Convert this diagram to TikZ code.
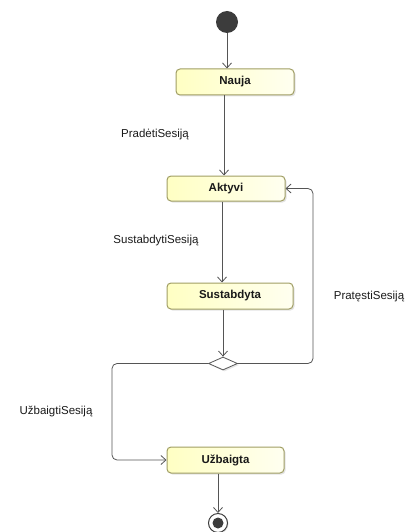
\documentclass[tikz,border=0pt]{standalone}
\usepackage{fontspec}
\setmainfont{Liberation Sans}
\usetikzlibrary{arrows.meta,shapes.geometric,shadows}
\definecolor{edgegray}{RGB}{85,85,85}
\definecolor{stateborder}{RGB}{160,158,100}
\definecolor{statefill}{RGB}{255,255,195}
\definecolor{statefillright}{RGB}{255,255,240}
\definecolor{pseudo}{RGB}{60,60,60}
\begin{document}
\begin{tikzpicture}[x=1pt,y=-1pt,
  every node/.style={font=\fontsize{11.5}{13}\selectfont, text=black!90},
  statebox/.style={draw=stateborder, line width=1pt, rounded corners=4pt,
    left color=statefill, right color=statefillright, minimum height=26pt,
    font=\fontsize{11.5}{13}\selectfont\bfseries, inner sep=0pt,
    drop shadow={shadow xshift=1.5pt, shadow yshift=-1.5pt, fill=black!22}},
  flow/.style={draw=edgegray, line width=0.8pt, -{Straight Barb[length=5pt,width=9pt]}},
  loop/.style={flow, rounded corners=5pt},
  trlabel/.style={inner sep=0pt}
]
\useasboundingbox (0,0) rectangle (407,532);

% states
\node[circle, fill=pseudo, minimum size=22pt, inner sep=0pt] (init) at (227,22) {};
\node[statebox, minimum width=118pt] (nauja) at (235,82) {Nauja};
\node[statebox, minimum width=118pt, minimum height=25pt] (aktyvi) at (226,188.5) {Aktyvi};
\node[statebox, minimum width=126pt] (sustabdyta) at (230,296) {Sustabdyta};
\node[diamond, draw=edgegray, fill=white, line width=0.8pt, minimum width=29pt, minimum height=13pt,
      inner sep=0pt, aspect=2.2,
      drop shadow={shadow xshift=1.5pt, shadow yshift=-1.5pt, fill=black!20}] (choice) at (223,363.5) {};
\node[statebox, minimum width=117pt] (uzbaigta) at (225.5,460) {Užbaigta};
\node[circle, draw=pseudo, fill=white, line width=1pt, minimum size=19pt, inner sep=0pt,
      drop shadow={shadow xshift=1pt, shadow yshift=-1pt, fill=black!20}] (final) at (218,523) {};
\node[circle, fill=pseudo, minimum size=11pt, inner sep=0pt] at (final) {};

% transitions
\draw[flow] (init) -- (init |- nauja.north);
\draw[flow] ([xshift=-11pt]nauja.south) -- ([xshift=-11pt]nauja.south |- aktyvi.north);
\draw[flow] ([xshift=-4pt]aktyvi.south) -- ([xshift=-4pt]aktyvi.south |- sustabdyta.north);
\draw[flow] ([xshift=-7pt]sustabdyta.south) -- (choice.north);
\coordinate (rturn) at (313,363.5);
\coordinate (lturn) at (112,363.5);
\draw[loop] (choice.east) -- (rturn) |- (aktyvi.east);
\draw[loop] (choice.west) -- (lturn) |- (uzbaigta.west);
\draw[flow] ([xshift=-7.5pt]uzbaigta.south) -- ([xshift=-7.5pt]uzbaigta.south |- final.north);

% transition labels
\node[trlabel] (lblstart) at (155,135) {PradėtiSesiją};
\node[trlabel] (lblpause) at (156,241) {SustabdytiSesiją};
\node[trlabel] (lblresume) at (369,297) {PratęstiSesiją};
\node[trlabel] (lblfinish) at (56,412) {UžbaigtiSesiją};
\end{tikzpicture}
\end{document}
